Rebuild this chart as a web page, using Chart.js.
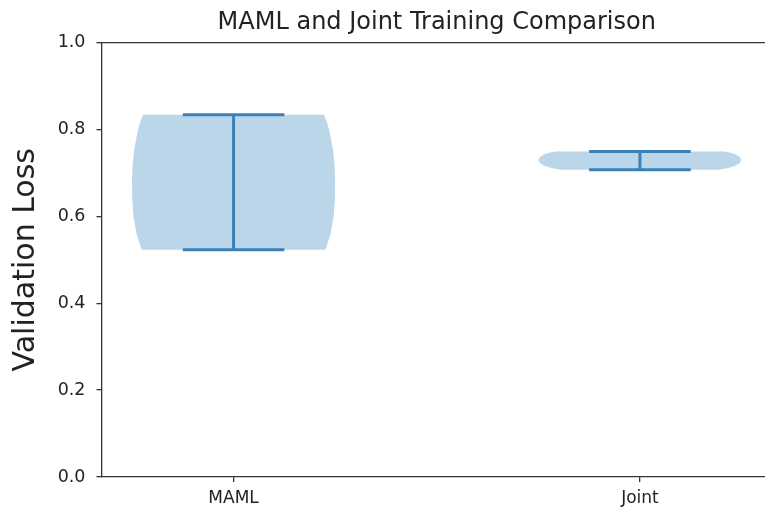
<!DOCTYPE html>
<html>
<head>
<meta charset="utf-8">
<title>MAML and Joint Training Comparison</title>
<script src="https://cdn.jsdelivr.net/npm/chart.js@4.4.1/dist/chart.umd.min.js"></script>
<style>
  html, body { margin: 0; padding: 0; background: #ffffff; overflow: hidden; }
  #wrap { width: 772px; height: 510px; position: relative; }
</style>
</head>
<body>
<div id="wrap"><canvas id="chart"></canvas></div>
<script>
// Violin categories and their x positions
const categories = ['MAML', 'Joint'];
const positions = [1, 2];

// Extremes of validation loss per category (caps and centre bar)
const minValues = [0.523, 0.707];
const maxValues = [0.834, 0.749];

// Density profiles: loss levels and relative half-width (1 = widest point)
const mamlLevels  = [0.523, 0.530, 0.560, 0.600, 0.640, 0.684, 0.720, 0.753, 0.792, 0.815, 0.834];
const mamlDensity = [0.905, 0.915, 0.955, 0.985, 0.997, 1.000, 0.993, 0.978, 0.948, 0.922, 0.890];
const jointLevels  = [0.707, 0.711, 0.716, 0.722, 0.729, 0.736, 0.742, 0.746, 0.749];
const jointDensity = [0.780, 0.870, 0.935, 0.980, 1.000, 0.985, 0.945, 0.895, 0.830];

const yTicks = [0.0, 0.2, 0.4, 0.6, 0.8, 1.0];

const FONT = "'DejaVu Sans', 'Liberation Sans', sans-serif";
const LINE = 'rgb(60, 128, 184)';
const BODY = 'rgba(31, 119, 180, 0.3)';
const VIOLIN_WIDTH = 0.5;           // full width of a violin in x units
const CAP_HALF = VIOLIN_WIDTH / 4;  // half length of the min / max caps
const X_MIN = 0.675, X_MAX = 2.325; // 5% margin around the violins

// Closed outline of a violin: right side upwards, left side downwards
function violinOutline(pos, levels, density) {
  const half = VIOLIN_WIDTH / 2;
  const right = levels.map((v, i) => ({ x: pos + half * density[i], y: v }));
  const left = levels.map((v, i) => ({ x: pos - half * density[i], y: v })).reverse();
  const pts = right.concat(left);
  pts.push({ x: pts[0].x, y: pts[0].y });
  return pts;
}

const profiles = [
  { levels: mamlLevels, density: mamlDensity },
  { levels: jointLevels, density: jointDensity }
];

const datasets = [];
positions.forEach((pos, i) => {
  datasets.push({
    label: categories[i] + ' body',
    data: violinOutline(pos, profiles[i].levels, profiles[i].density),
    showLine: true,
    fill: 'shape',
    backgroundColor: BODY,
    borderWidth: 0,
    borderColor: 'rgba(0,0,0,0)',
    pointRadius: 0,
    tension: 0,
    order: 2
  });
  const lineStyle = { showLine: true, fill: false, borderColor: LINE, borderWidth: 3, pointRadius: 0, order: 1 };
  datasets.push(Object.assign({ label: categories[i] + ' max', data: [{ x: pos - CAP_HALF, y: maxValues[i] }, { x: pos + CAP_HALF, y: maxValues[i] }] }, lineStyle));
  datasets.push(Object.assign({ label: categories[i] + ' min', data: [{ x: pos - CAP_HALF, y: minValues[i] }, { x: pos + CAP_HALF, y: minValues[i] }] }, lineStyle));
  datasets.push(Object.assign({ label: categories[i] + ' range', data: [{ x: pos, y: minValues[i] }, { x: pos, y: maxValues[i] }] }, lineStyle));
});

const axisColor = '#333333';

new Chart(document.getElementById('chart'), {
  type: 'scatter',
  data: { datasets },
  options: {
    responsive: true,
    maintainAspectRatio: false,
    animation: false,
    devicePixelRatio: 1,
    layout: { padding: 0 },
    plugins: {
      legend: { display: false },
      tooltip: { enabled: false },
      title: {
        display: true,
        fullSize: false,
        text: 'MAML and Joint Training Comparison',
        color: '#222222',
        font: { family: FONT, size: 24, weight: 'normal' },
        padding: { top: 8, bottom: 5.7 }
      }
    },
    scales: {
      x: {
        type: 'linear',
        position: 'bottom',
        min: X_MIN,
        max: X_MAX,
        afterBuildTicks: (s) => { s.ticks = positions.map(v => ({ value: v })); },
        afterFit: (s) => { s.height = 33; },
        ticks: {
          color: '#222222',
          font: { family: FONT, size: 17 },
          padding: 6,
          maxRotation: 0,
          callback: (v, idx) => categories[idx]
        },
        grid: { display: true, drawOnChartArea: false, drawTicks: true, tickLength: 5, color: axisColor, lineWidth: 1.3 },
        border: { display: true, color: axisColor, width: 1.3 }
      },
      xTop: {
        type: 'linear',
        position: 'top',
        min: X_MIN,
        max: X_MAX,
        afterFit: (s) => { s.height = 0; },
        ticks: { display: false },
        grid: { display: false },
        border: { display: true, color: axisColor, width: 1.3 }
      },
      y: {
        type: 'linear',
        min: 0,
        max: 1,
        afterBuildTicks: (s) => { s.ticks = yTicks.map(v => ({ value: v })); },
        afterFit: (s) => { s.width = 101.5; },
        ticks: {
          color: '#222222',
          font: { family: FONT, size: 17.5 },
          padding: 11,
          callback: (v) => Number(v).toFixed(1)
        },
        grid: { display: true, drawOnChartArea: false, drawTicks: true, tickLength: 5, color: axisColor, lineWidth: 1.3 },
        border: { display: true, color: axisColor, width: 1.3 },
        title: {
          display: true,
          text: 'Validation Loss',
          color: '#222222',
          font: { family: FONT, size: 30, weight: 'normal' },
          padding: { top: 8, bottom: 0 }
        }
      }
    }
  }
});
</script>
</body>
</html>
